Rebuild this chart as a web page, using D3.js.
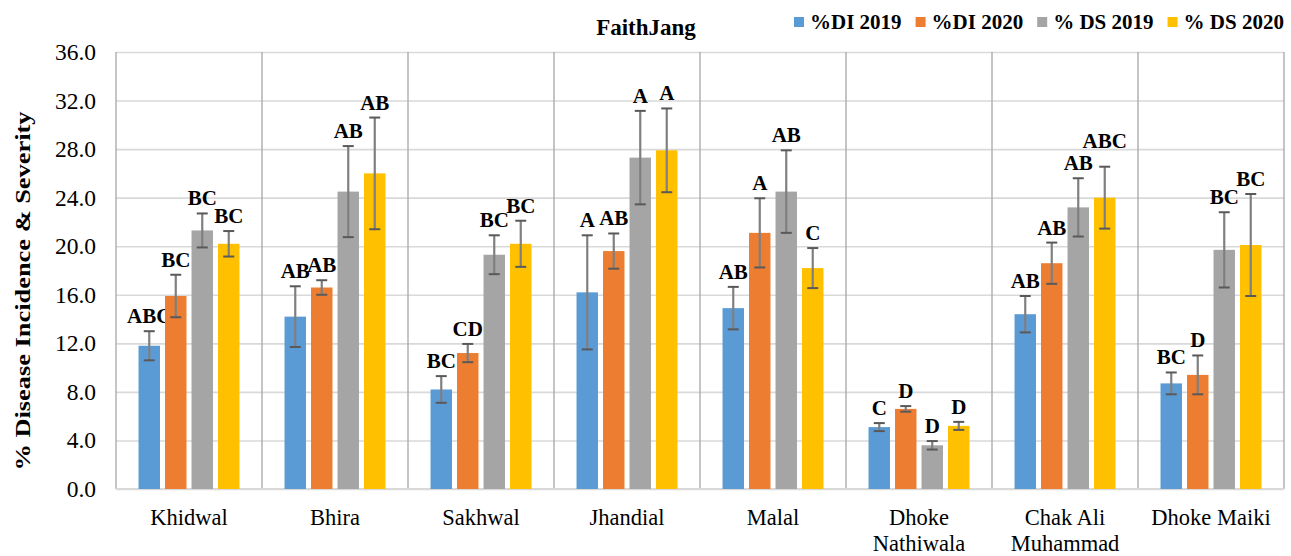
<!DOCTYPE html>
<html>
<head>
<meta charset="utf-8">
<script src="https://cdn.jsdelivr.net/npm/d3@7"></script>
<style>
  body { margin: 0; background: #fff; }
  svg { display: block; font-family: "Liberation Serif", "Times New Roman", serif; }
</style>
</head>
<body>
<svg id="chart"></svg>
<script>
// data
const categories = ["Khidwal", "Bhira", "Sakhwal", "Jhandial", "Malal", "Dhoke Nathiwala", "Chak Ali Muhammad", "Dhoke Maiki"];
const seriesNames = ["%DI 2019", "%DI 2020", "% DS 2019", "% DS 2020"];
const seriesColors = ["#5B9BD5", "#ED7D31", "#A5A5A5", "#FFC000"];

const di2019 = [11.8, 14.2, 8.2, 16.2, 14.9, 5.1, 14.4, 8.7];
const di2020 = [15.9, 16.6, 11.2, 19.6, 21.1, 6.6, 18.6, 9.4];
const ds2019 = [21.3, 24.5, 19.3, 27.3, 24.5, 3.6, 23.2, 19.7];
const ds2020 = [20.2, 26.0, 20.2, 27.9, 18.2, 5.2, 24.0, 20.1];

const di2019Err = [1.2, 2.5, 1.1, 4.7, 1.75, 0.33, 1.5, 0.9];
const di2020Err = [1.75, 0.6, 0.75, 1.45, 2.85, 0.23, 1.7, 1.6];
const ds2019Err = [1.4, 3.75, 1.6, 3.85, 3.4, 0.35, 2.4, 3.1];
const ds2020Err = [1.05, 4.6, 1.9, 3.45, 1.65, 0.33, 2.55, 4.2];

const di2019Lab = ["ABC", "AB", "BC", "A", "AB", "C", "AB", "BC"];
const di2020Lab = ["BC", "AB", "CD", "AB", "A", "D", "AB", "D"];
const ds2019Lab = ["BC", "AB", "BC", "A", "AB", "D", "AB", "BC"];
const ds2020Lab = ["BC", "AB", "BC", "A", "C", "D", "ABC", "BC"];

const yTicks = [0, 4, 8, 12, 16, 20, 24, 28, 32, 36];
const chartTitle = "FaithJang";
const yTitle = "% Disease Incidence & Severity";

const values = [di2019, di2020, ds2019, ds2020];
const errs = [di2019Err, di2020Err, ds2019Err, ds2020Err];
const labs = [di2019Lab, di2020Lab, ds2019Lab, ds2020Lab];

// flat table for the bars
const rows = [];
categories.forEach((c, i) => {
  seriesNames.forEach((s, j) => {
    rows.push({ cat: c, series: s, value: values[j][i], err: errs[j][i], label: labs[j][i] });
  });
});

const W = 1291, H = 556;
const margin = { top: 52, right: 7, bottom: 67, left: 116 },
      width = W - margin.left - margin.right,
      height = H - margin.top - margin.bottom;

const svg = d3.select("#chart").attr("width", W).attr("height", H);
const g = svg.append("g").attr("transform", `translate(${margin.left},${margin.top})`);

const x0 = d3.scaleBand().domain(categories).range([0, width]).padding(0);
const x1 = d3.scaleBand().domain(seriesNames).range([0, x0.bandwidth()])
  .paddingInner(0.19).paddingOuter(0.85);
const y = d3.scaleLinear().domain([0, 36]).range([height, 0]);
const color = d3.scaleOrdinal().domain(seriesNames).range(seriesColors);

// horizontal gridlines
g.append("g")
  .call(d3.axisLeft(y).tickValues(yTicks).tickSize(-width).tickFormat(""))
  .call(a => a.select(".domain").remove())
  .call(a => a.selectAll("line").attr("stroke", "#d9d9d9").attr("stroke-width", 1.6));

// vertical category separators
g.append("g").selectAll("line")
  .data(categories.concat(["end"]))
  .join("line")
    .attr("x1", d => d === "end" ? width : x0(d))
    .attr("x2", d => d === "end" ? width : x0(d))
    .attr("y1", 0)
    .attr("y2", height)
    .attr("stroke", "#a6a6a6")
    .attr("stroke-width", 1.3);

// bottom axis line
g.append("line")
  .attr("x1", 0).attr("x2", width)
  .attr("y1", height).attr("y2", height)
  .attr("stroke", "#d9d9d9").attr("stroke-width", 2);

// y axis labels
g.append("g")
  .call(d3.axisLeft(y).tickValues(yTicks).tickFormat(d3.format(".1f")).tickSize(0).tickPadding(20))
  .call(a => a.select(".domain").remove())
  .call(a => a.selectAll("text")
    .attr("font-family", "Liberation Serif, Times New Roman, serif")
    .attr("font-size", 23.5)
    .attr("fill", "#000"));

// bars
const bars = g.append("g").selectAll("g")
  .data(rows)
  .join("g")
    .attr("transform", d => `translate(${x0(d.cat) + x1(d.series)},0)`);

bars.append("rect")
  .attr("x", 0)
  .attr("y", d => y(d.value))
  .attr("width", x1.bandwidth())
  .attr("height", d => height - y(d.value))
  .attr("fill", d => color(d.series));

// error bars
const bw = x1.bandwidth();
bars.append("line")
  .attr("x1", bw / 2).attr("x2", bw / 2)
  .attr("y1", d => y(d.value + d.err))
  .attr("y2", d => y(d.value - d.err))
  .attr("stroke", "#7f7f7f").attr("stroke-width", 2.2);
bars.selectAll("line.cap")
  .data(d => [d.value + d.err, d.value - d.err])
  .join("line")
    .attr("class", "cap")
    .attr("x1", bw / 2 - 5.5).attr("x2", bw / 2 + 5.5)
    .attr("y1", v => y(v)).attr("y2", v => y(v))
    .attr("stroke", "#595959").attr("stroke-width", 2);

// letter labels, sitting above the error bar
const labFs = 21;
const labels = bars.append("text")
  .attr("x", bw / 2)
  .attr("y", d => y(d.value + d.err) - 8)
  .attr("text-anchor", "middle")
  .attr("font-size", labFs)
  .attr("font-weight", "bold")
  .attr("fill", "#000")
  .text(d => d.label);

// push a label up when it runs into its left neighbour
categories.forEach(c => {
  const group = labels.filter(d => d.cat === c).nodes();
  for (let k = 1; k < group.length; k++) {
    const prev = group[k - 1], cur = group[k];
    const pd = d3.select(prev).datum(), cd = d3.select(cur).datum();
    const pw = prev.getComputedTextLength(), cw = cur.getComputedTextLength();
    const pcx = x1(pd.series) + bw / 2, ccx = x1(cd.series) + bw / 2;
    const hOver = (pcx + pw / 2) - (ccx - cw / 2);
    const py = +prev.getAttribute("y"), cy = +cur.getAttribute("y");
    if (hOver > 4 && Math.abs(py - cy) < labFs) {
      cur.setAttribute("y", Math.min(cy, py - labFs - 1));
    }
  }
});

// category labels
const xAxis = g.append("g")
  .attr("transform", `translate(0,${height})`)
  .call(d3.axisBottom(x0).tickSize(0).tickPadding(0))
  .call(a => a.select(".domain").remove());

xAxis.selectAll("text")
  .attr("font-family", "Liberation Serif, Times New Roman, serif")
  .attr("font-size", 22.5)
  .attr("fill", "#000")
  .attr("dy", null)
  .call(wrap, x0.bandwidth() - 6);

function wrap(texts, maxW) {
  texts.each(function () {
    const text = d3.select(this);
    const words = text.text().split(/\s+/);
    text.text(null);
    const lines = [];
    let line = [];
    const probe = text.append("tspan");
    words.forEach(w => {
      line.push(w);
      probe.text(line.join(" "));
      if (probe.node().getComputedTextLength() > maxW && line.length > 1) {
        line.pop();
        lines.push(line.join(" "));
        line = [w];
      }
    });
    lines.push(line.join(" "));
    probe.remove();
    lines.forEach((l, i) => {
      text.append("tspan")
        .attr("x", 0)
        .attr("y", 0)
        .attr("dy", 36 + i * 26)
        .text(l);
    });
  });
}

// y axis title
svg.append("text")
  .attr("transform", `translate(30,${291}) rotate(-90) scale(1.2,1)`)
  .attr("text-anchor", "middle")
  .attr("font-size", 22)
  .attr("font-weight", "bold")
  .attr("fill", "#000")
  .text(yTitle);

// chart title
svg.append("text")
  .attr("x", 646)
  .attr("y", 35)
  .attr("text-anchor", "middle")
  .attr("font-size", 23)
  .attr("font-weight", "bold")
  .attr("fill", "#000")
  .text(chartTitle);

// legend
const legend = svg.append("g").attr("transform", "translate(794,0)");
let lx = 0;
seriesNames.forEach(s => {
  const item = legend.append("g").attr("transform", `translate(${lx},0)`);
  item.append("rect")
    .attr("x", 0).attr("y", 17)
    .attr("width", 10).attr("height", 10)
    .attr("fill", color(s));
  const t = item.append("text")
    .attr("x", 16).attr("y", 29)
    .attr("font-size", 21)
    .attr("font-weight", "bold")
    .attr("fill", "#000")
    .text(s);
  lx += 16 + t.node().getComputedTextLength() + 14;
});
</script>
</body>
</html>
